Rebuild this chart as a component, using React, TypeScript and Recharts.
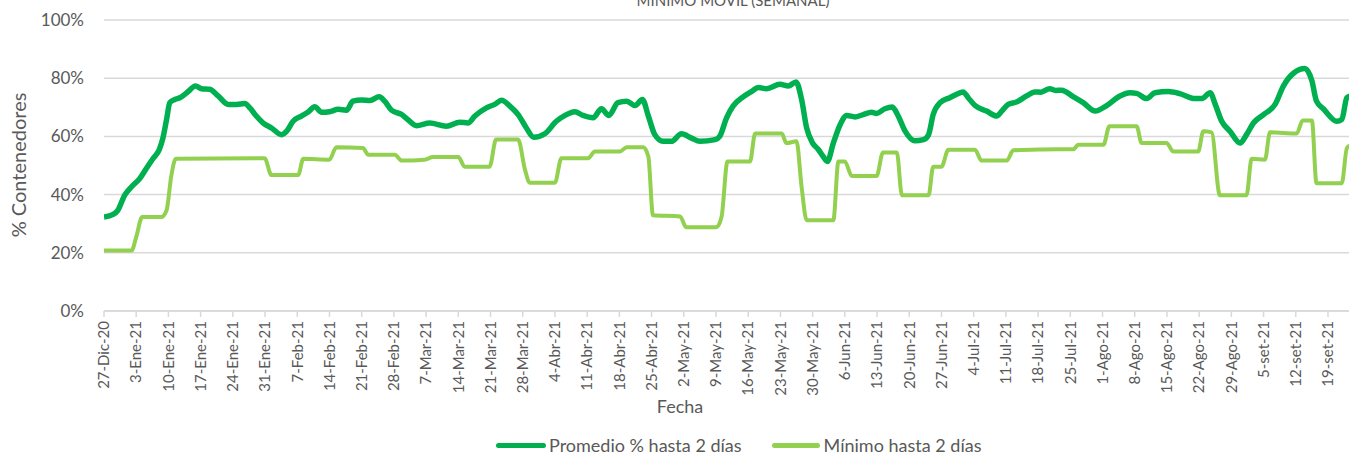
import { LineChart, Line, XAxis, YAxis, CartesianGrid } from "recharts"

// dias desde 27-Dic-20
const promDays = [
  0, 2, 3, 4.5, 6, 7.8, 9.2, 10.7, 12, 12.8, 13.6, 14.3, 15.4, 16.5, 18, 19.9, 21.2, 23, 24.8, 27,
  28.8, 30.6, 31.7, 33.1, 34.6, 36.4, 38.6, 39.7, 41.1, 42.9, 44.3, 45.8, 47.3, 49, 50.9, 52.7, 54.1, 56, 57.8, 59.8,
  61, 62.5, 64.7, 66, 67.9, 70.8, 74.4, 77.3, 79.1, 80.6, 83.1, 84.9, 86.4, 88.2, 90, 91.8, 93.4, 95.8, 98.3, 100.2,
  102.3, 104.1, 106.3, 108.1, 109.7, 111.7, 113.6, 115.4, 117, 118.3, 119.7, 121.5, 123.3, 125.5, 127.7, 129.5, 132.8, 133.8, 135.3, 136.7,
  138.9, 140.7, 142.2, 144, 146.9, 148.7, 150.4, 151.6, 152.7, 154, 155.2, 156.3, 157.2, 158.5, 160, 161.4, 163.2, 165, 166.8, 167.9,
  169.7, 171.3, 172.6, 174.1, 176.2, 178.1, 179.2, 180.2, 181.7, 183.8, 185.3, 186.7, 187.8, 189.3, 191.8, 194, 195.1, 196.5, 198.3, 200.5,
  202.3, 203.6, 205.5, 206.8, 208.1, 210.7, 212.8, 215.4, 217.9, 220.8, 223, 224.4, 226.6, 228.4, 231.3, 233.8, 237.1, 238.6, 240.4, 241.5, 242.9, 244.7,
  246.9, 248.3, 249.8, 252, 254.5, 256.3, 258.5, 261, 262.5, 263.5, 265, 267.9, 269, 270.1, 271,
]
const promValues = [
  32.3, 33.2, 34.6, 39.8, 42.7, 45.6, 49, 52.5, 55.4, 59.4, 65.8, 71.6, 72.7, 73.3, 75, 77.3, 76.4, 76.2, 73.9, 71,
  71, 71.3, 69.8, 67, 64.6, 62.9, 60.6, 61.8, 65.2, 67, 68.3, 70.2, 68.3, 68.5, 69.3, 69, 72.1, 72.5, 72.3, 73.6,
  72.1, 69, 67.5, 65.8, 63.7, 64.6, 63.5, 64.9, 64.6, 67, 69.8, 71, 72.4, 70.4, 67.5, 62.9, 59.7, 60.9, 65.2, 67.2,
  68.5, 67.2, 66.4, 69.5, 67.2, 71.6, 72.1, 70.6, 72.7, 67, 60.6, 58.3, 58.3, 60.9, 59.4, 58.3, 58.9, 60, 66.4, 70.4,
  73.6, 75.4, 76.8, 76.4, 77.9, 77.3, 78.7, 72.7, 62.9, 57.7, 55.6, 53.1, 51.4, 57.7, 64.1, 67.2, 66.7, 67.5, 68.3, 67.9,
  69.5, 70.1, 67, 61.8, 58.5, 58.9, 60.6, 67.5, 71.6, 73.3, 74.5, 75.3, 73.3, 70.6, 68.7, 67, 68.7, 71, 71.8, 73.9,
  75.3, 75.2, 76.4, 75.8, 75.9, 73.6, 71.6, 68.7, 70.6, 73.9, 75, 74.8, 73, 75, 75.4, 74.7, 73, 73, 75, 71, 65.2, 61.8,
  57.7, 60.6, 64.6, 67.5, 71, 77.3, 81.7, 83.3, 79.1, 72.1, 69.5, 65.2, 65.8, 73.3, 74,
]

const minDays = [
  0, 6, 7, 8.3, 12.5, 13.6, 14.6, 15.6, 34.9, 36.4, 42.2, 43.3, 49, 50.5, 56.3, 57.4, 63.2, 64.7, 69.7, 71.5,
  77, 78.4, 83.8, 85.2, 90, 91.5, 92.5, 98, 99.4, 105.2, 106.7, 112.1, 113.6, 117.2, 118.3, 119.3, 125.2, 126.5, 133.1, 134.2,
  135.5, 140.4, 141.5, 147.3, 148.3, 150.5, 151.6, 152.7, 158.5, 159.6, 161, 162.5, 167.9, 169.3, 172.3, 173.4, 179.2, 180.2, 182, 183.5,
  189.3, 190.7, 196.2, 197.6, 203.8, 210.7, 211.7, 217.2, 218.5, 224.4, 225.5, 230.9, 232.4, 237.8, 238.9, 240.7, 242.5, 248.3, 249.4, 252.3,
  253.4, 259.2, 260.5, 262.5, 263.5, 269, 270.1, 271,
]
const minValues = [
  20.8, 20.8, 25.4, 32.3, 32.3, 34.6, 46.2, 52.3, 52.5, 46.7, 46.7, 52.3, 52, 56.3, 56, 53.7, 53.7, 51.7, 52, 52.9,
  52.9, 49.6, 49.6, 58.9, 58.9, 48.5, 44.1, 44.1, 52.5, 52.5, 54.8, 54.8, 56.3, 56.3, 53.1, 32.9, 32.5, 28.8, 28.8, 32.3,
  51.4, 51.4, 61, 61, 57.7, 58.3, 42.7, 31.2, 31.2, 51.4, 51.4, 46.4, 46.4, 54.5, 54.5, 39.8, 39.8, 49.6, 49.6, 55.4,
  55.4, 51.7, 51.7, 55.2, 55.5, 55.6, 57.1, 57.1, 63.5, 63.5, 57.7, 57.7, 54.8, 54.8, 61.8, 61.4, 39.8, 39.8, 52.3, 52,
  61.4, 61, 65.5, 65.5, 43.9, 43.9, 56, 57,
]

const tickLabels = [
  "27-Dic-20", "3-Ene-21", "10-Ene-21", "17-Ene-21", "24-Ene-21", "31-Ene-21", "7-Feb-21", "14-Feb-21",
  "21-Feb-21", "28-Feb-21", "7-Mar-21", "14-Mar-21", "21-Mar-21", "28-Mar-21", "4-Abr-21", "11-Abr-21",
  "18-Abr-21", "25-Abr-21", "2-May-21", "9-May-21", "16-May-21", "23-May-21", "30-May-21", "6-Jun-21",
  "13-Jun-21", "20-Jun-21", "27-Jun-21", "4-Jul-21", "11-Jul-21", "18-Jul-21", "25-Jul-21", "1-Ago-21",
  "8-Ago-21", "15-Ago-21", "22-Ago-21", "29-Ago-21", "5-set-21", "12-set-21", "19-set-21",
]
const tickDays = tickLabels.map((_, i) => i * 7)
const yTicks = [0, 20, 40, 60, 80, 100]

const promData = promDays.map((d, i) => ({ d, v: promValues[i] }))
const minData = minDays.map((d, i) => ({ d, v: minValues[i] }))

const FONT = "Lato, 'Open Sans', sans-serif"
const GRAY = "#595959"
const DARK = "#00B050"
const LIGHT = "#92D050"

function XTick(props: any) {
  const { x, y, payload } = props
  const label = tickLabels[Math.round(payload.value / 7)] ?? ""
  return (
    <text
      x={x}
      y={y}
      dy="0.35em"
      transform={`rotate(-90, ${x}, ${y})`}
      textAnchor="end"
      fill={GRAY}
      fontSize={15}
      fontFamily={FONT}
    >
      {label}
    </text>
  )
}

function YTick(props: any) {
  const { x, y, payload } = props
  return (
    <text x={x} y={y} dy="0.35em" textAnchor="end" fill={GRAY} fontSize={17} fontFamily={FONT}>
      {payload.value}%
    </text>
  )
}

export default function App() {
  return (
    <div
      style={{
        position: "absolute",
        left: 0,
        top: 0,
        width: 1349,
        height: 455,
        overflow: "hidden",
        background: "#fff",
        fontFamily: FONT,
        color: GRAY,
      }}
    >
      <div style={{ position: "absolute", left: 733, top: -9, transform: "translateX(-50%)", fontSize: 15, whiteSpace: "nowrap" }}>
        MÍNIMO MOVIL (SEMANAL)
      </div>
      <div
        style={{
          position: "absolute",
          left: 18,
          top: 165,
          transform: "translate(-50%, -50%) rotate(-90deg)",
          fontSize: 20,
          whiteSpace: "nowrap",
        }}
      >
        % Contenedores
      </div>
      <LineChart width={1351} height={455} margin={{ top: 20, right: 0, bottom: 0, left: 0 }}>
        <CartesianGrid vertical={false} stroke="#d9d9d9" strokeWidth={1.5} />
        <XAxis
          type="number"
          dataKey="d"
          domain={[0, 271]}
          ticks={tickDays}
          interval={0}
          height={144}
          stroke="#d9d9d9"
          strokeWidth={1.5}
          tickSize={6}
          tickMargin={4}
          tick={<XTick />}
          allowDataOverflow
        />
        <YAxis
          type="number"
          domain={[0, 100]}
          ticks={yTicks}
          width={104}
          axisLine={false}
          tickLine={false}
          tickSize={0}
          tickMargin={20}
          tick={<YTick />}
        />
        <Line
          data={promData}
          dataKey="v"
          type="monotone"
          stroke={DARK}
          strokeWidth={5.5}
          dot={false}
          isAnimationActive={false}
        />
        <Line
          data={minData}
          dataKey="v"
          type="monotone"
          stroke={LIGHT}
          strokeWidth={4}
          dot={false}
          isAnimationActive={false}
        />
      </LineChart>
      <div style={{ position: "absolute", left: 680, top: 406, transform: "translate(-50%, -50%)", fontSize: 18 }}>
        Fecha
      </div>
      <div
        style={{
          position: "absolute",
          left: 496,
          top: 445,
          transform: "translateY(-50%)",
          display: "flex",
          alignItems: "center",
          fontSize: 18,
          whiteSpace: "nowrap",
        }}
      >
        <span style={{ display: "inline-block", width: 50, height: 5, background: DARK, borderRadius: 3, marginRight: 3 }} />
        <span>Promedio % hasta 2 días</span>
        <span style={{ display: "inline-block", width: 48, height: 5, background: LIGHT, borderRadius: 3, margin: "0 4px 0 30px" }} />
        <span>Mínimo hasta 2 días</span>
      </div>
    </div>
  )
}
